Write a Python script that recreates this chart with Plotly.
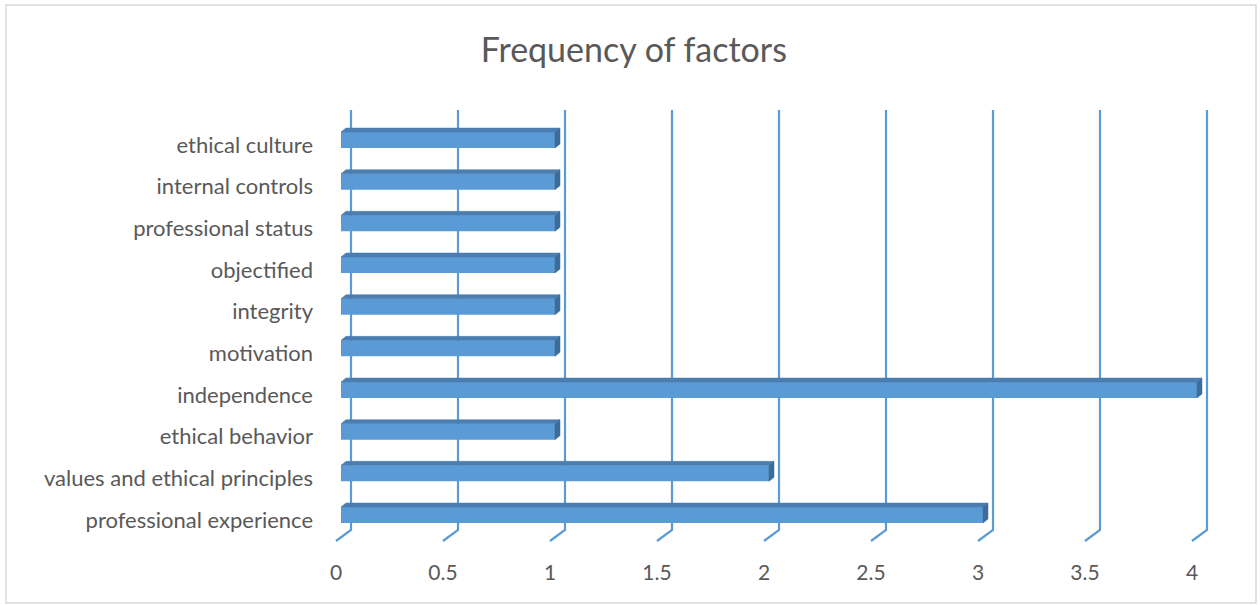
import plotly.graph_objects as go

# ---- data ----
categories = [
    "professional experience",
    "values and ethical principles",
    "ethical behavior",
    "independence",
    "motivation",
    "integrity",
    "objectified",
    "professional status",
    "internal controls",
    "ethical culture",
]
values = [3, 2, 1, 4, 1, 1, 1, 1, 1, 1]
x_ticks = [0, 0.5, 1, 1.5, 2, 2.5, 3, 3.5, 4]
x_tick_labels = ["0", "0.5", "1", "1.5", "2", "2.5", "3", "3.5", "4"]

# ---- style ----
W, H = 1260, 605
FONT = "Lato"
TXT = "#595959"
FRONT = "#5B9BD5"
TOP = "#4A7DB0"
SIDE = "#3E6C98"
GRID = "#5B9BD5"

ML, MR, MT, MB = 330, 45, 100, 60
X_RANGE = [-0.0514, 4.0841]
Y_RANGE = [-0.6, 10.08]
pxx = (W - ML - MR) / (X_RANGE[1] - X_RANGE[0])   # px per x unit
pxy = (H - MT - MB) / (Y_RANGE[1] - Y_RANGE[0])   # px per y unit

bar_w = 16 / pxy
bar_shift = 5 / pxy
dep_x = 5 / pxx
dep_y = 4 / pxy

fig = go.Figure()

# gridlines (back wall + floor diagonal), derived from tick values
gx, gy = [], []
g_top = Y_RANGE[1] - 10 / pxy
g_floor = Y_RANGE[0] + 15 / pxy
g_front = Y_RANGE[0] + 4 / pxy
for t in x_ticks:
    gx += [t + 10 / pxx, t + 10 / pxx, t - 5 / pxx, None]
    gy += [g_top, g_floor, g_front, None]
fig.add_trace(go.Scatter(x=gx, y=gy, mode="lines", line=dict(color=GRID, width=2.2),
                         hoverinfo="skip", showlegend=False))

ys = [i + bar_shift for i in range(len(categories))]

# front faces
fig.add_trace(go.Bar(x=values, y=ys, orientation="h", width=bar_w,
                     marker=dict(color=FRONT, line=dict(width=0)),
                     showlegend=False, hovertext=categories))

# top faces and side caps
tx, ty, sx, sy = [], [], [], []
for v, yc in zip(values, ys):
    top = yc + bar_w / 2
    bot = yc - bar_w / 2
    tx += [0, v, v + dep_x, dep_x, 0, None]
    ty += [top, top, top + dep_y, top + dep_y, top, None]
    sx += [v, v + dep_x, v + dep_x, v, v, None]
    sy += [top, top + dep_y, bot + dep_y, bot, top, None]
fig.add_trace(go.Scatter(x=tx, y=ty, fill="toself", fillcolor=TOP, mode="lines",
                         line=dict(color=TOP, width=0.5), hoverinfo="skip", showlegend=False))
fig.add_trace(go.Scatter(x=sx, y=sy, fill="toself", fillcolor=SIDE, mode="lines",
                         line=dict(color=SIDE, width=0.5), hoverinfo="skip", showlegend=False))

fig.update_layout(
    width=W, height=H,
    margin=dict(l=ML, r=MR, t=MT, b=MB),
    paper_bgcolor="white", plot_bgcolor="white",
    font=dict(family=FONT, color=TXT, size=22),
    title=dict(text="Frequency of factors", x=0.503, xanchor="center", y=0.918, yanchor="middle",
               font=dict(family=FONT, size=34, color=TXT)),
    xaxis=dict(range=X_RANGE, tickvals=x_ticks, ticktext=x_tick_labels, showgrid=False,
               zeroline=False, showline=False, ticks="", ticklabelstandoff=13,
               ticklabelshift=-5, fixedrange=True, automargin=False,
               tickfont=dict(size=21)),
    yaxis=dict(range=Y_RANGE, tickvals=list(range(len(categories))), ticktext=categories,
               showgrid=False, zeroline=False, showline=False, ticks="",
               ticklabelstandoff=16, fixedrange=True, automargin=False),
)
# outer chart border
fig.add_shape(type="rect", xref="paper", yref="paper",
              x0=-(ML - 6) / (W - ML - MR), x1=1 + (MR - 4) / (W - ML - MR),
              y0=-(MB - 2) / (H - MT - MB), y1=1 + (MT - 5) / (H - MT - MB),
              line=dict(color="#D9D9D9", width=1.5))

fig.write_html("out.html", config={"displayModeBar": False},
               post_script="document.body.style.margin='0';")
